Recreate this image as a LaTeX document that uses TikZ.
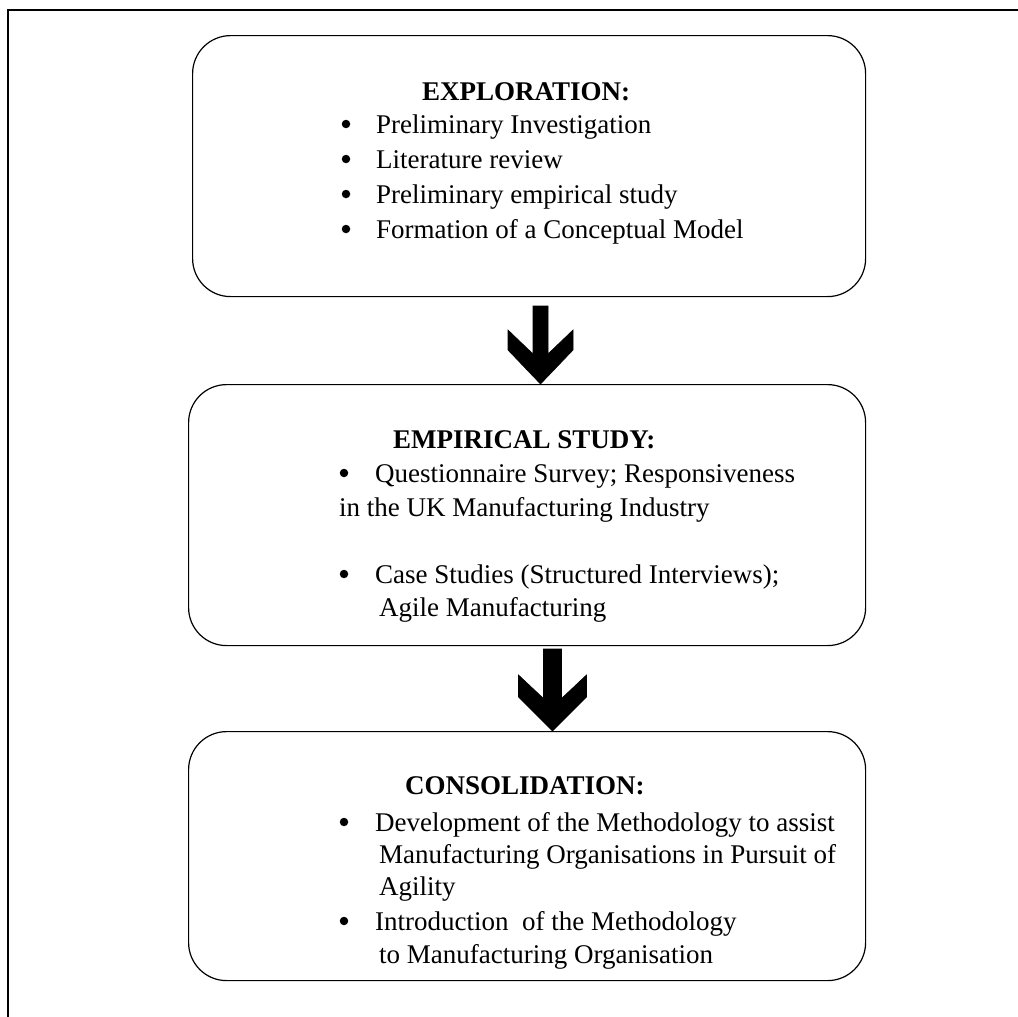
\documentclass[tikz,border=0pt]{standalone}
\usepackage{fontspec}
\setmainfont{Liberation Serif}
\usetikzlibrary{calc}
\begin{document}
\begin{tikzpicture}[x=1pt,y=-1pt,
  stage/.style={draw, line width=1.2pt, rounded corners=38pt, inner sep=0pt,
    anchor=north west},
  txt/.style={anchor=base west, inner sep=0pt, font=\fontsize{27}{33}\selectfont},
  ttl/.style={txt, font=\fontsize{27}{33}\selectfont\bfseries},
  blt/.style={circle, fill=black, inner sep=0pt, minimum size=8.5pt, yshift=9pt},
  blockarrow/.style={fill=black, draw=black, line width=0.6pt, line join=miter}]
\useasboundingbox (0,0) rectangle (1018,1017);

% outer frame (top and left rules)
\draw[line width=1.8pt] (8,1017) -- (8,10) -- (1018,10);

% the three stages
\node[stage, minimum width=673pt, minimum height=261pt] (explore) at (192,35) {};
\node[stage, minimum width=677pt, minimum height=261pt] (empirical) at (188,384) {};
\node[stage, minimum width=677pt, minimum height=249pt] (consol) at (188,731) {};

% stage 1 text
\node[ttl] (t1) at (422,100) {EXPLORATION:};
\node[blt] (b11) at (346,133) {};
\node[txt] (l11) at (376,133) {Preliminary Investigation};
\node[blt] (b12) at (346,168) {};
\node[txt] (l12) at (376,168) {Literature review};
\node[blt] (b13) at (346,203) {};
\node[txt] (l13) at (376,203) {Preliminary empirical study};
\node[blt] (b14) at (346,238) {};
\node[txt] (l14) at (376,238) {Formation of a Conceptual Model};

% stage 2 text
\node[ttl] (t2) at (393,448) {EMPIRICAL STUDY:};
\node[blt] (b21) at (344,482) {};
\node[txt] (l21) at (375,482) {Questionnaire Survey; Responsiveness};
\node[txt] (l22) at (339,516) {in the UK Manufacturing Industry};
\node[blt] (b23) at (344,583) {};
\node[txt] (l23) at (375,583) {Case Studies (Structured Interviews);};
\node[txt] (l24) at (379,616) {Agile Manufacturing};

% stage 3 text
\node[ttl] (t3) at (405,794) {CONSOLIDATION:};
\node[blt] (b31) at (344,831) {};
\node[txt] (l31) at (375,831) {Development of the Methodology to assist};
\node[txt] (l32) at (379,863) {Manufacturing Organisations in Pursuit of};
\node[txt] (l33) at (379,895) {Agility};
\node[blt] (b34) at (344,930) {};
\node[txt] (l34) at (375,930) {Introduction\ \ of the Methodology};
\node[txt] (l35) at (379,963) {to Manufacturing Organisation};

% block arrows between the stages, tip on the next stage
\coordinate (a1tip) at (540.5,0 |- empirical.north);
\fill[blockarrow] (a1tip) -- ++(-32.5,-34) -- ++(0,-20) -- ++(25,24)
  -- ++(0,-48) -- ++(15,0) -- ++(0,48) -- ++(25,-24) -- ++(0,20) -- cycle;

\coordinate (a2tip) at (552.5,0 |- consol.north);
\fill[blockarrow] (a2tip) -- ++(-34,-34) -- ++(0,-22) -- ++(25,23.5)
  -- ++(0,-49.5) -- ++(18,0) -- ++(0,49.5) -- ++(25,-23.5) -- ++(0,22) -- cycle;
\end{tikzpicture}
\end{document}
